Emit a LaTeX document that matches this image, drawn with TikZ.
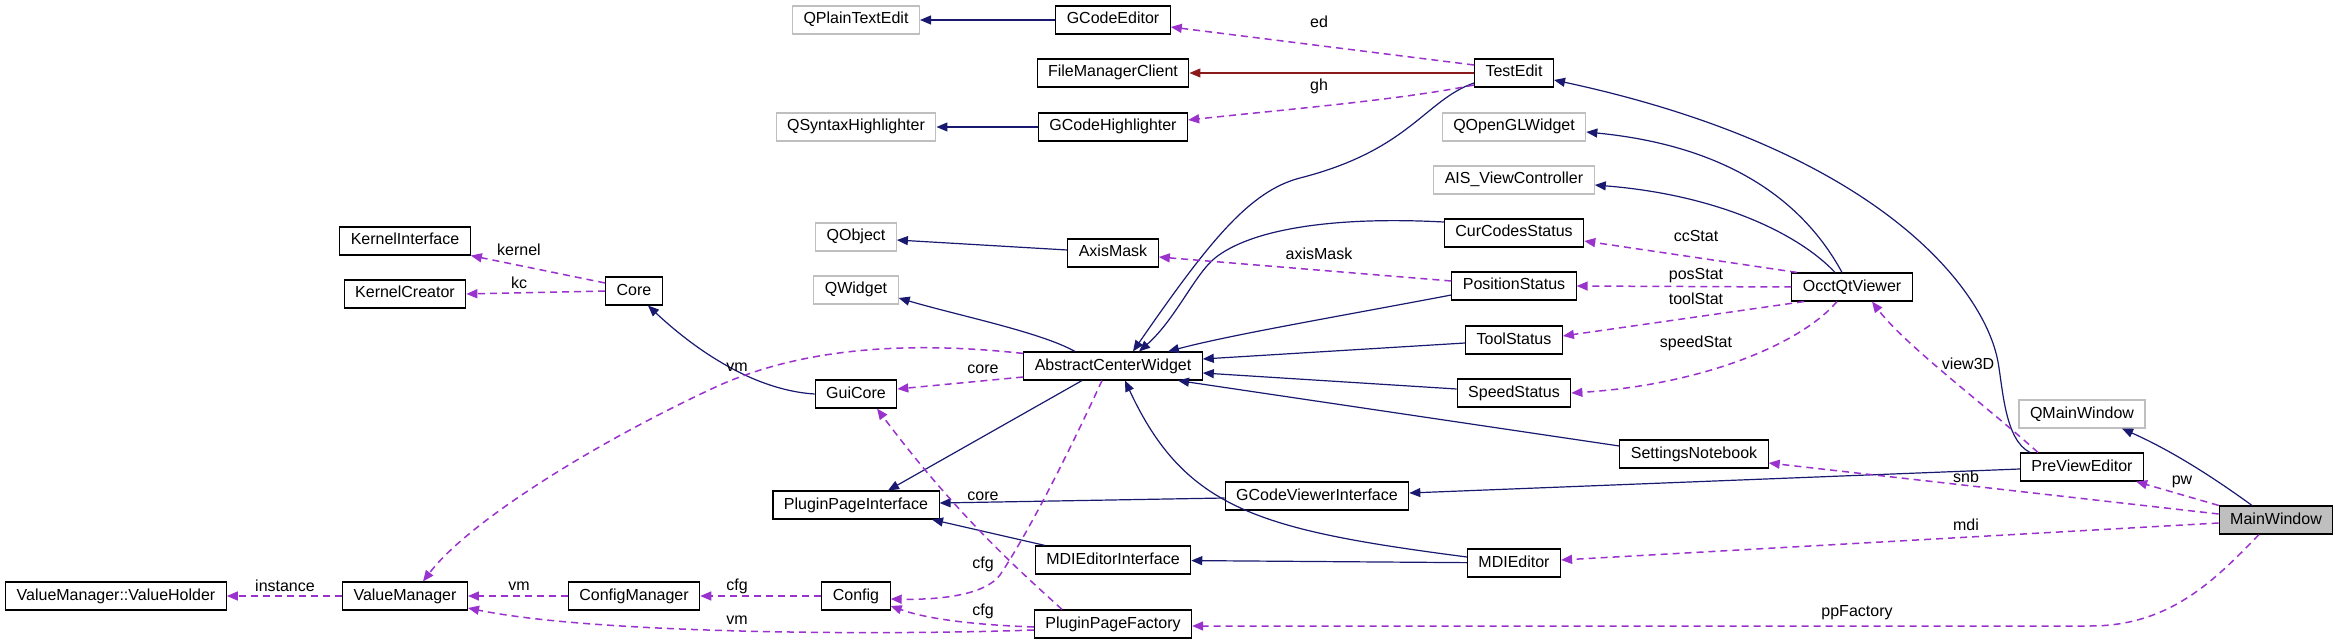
\documentclass[tikz,border=0pt]{standalone}
\usepackage{fontspec}
\setmainfont{Liberation Sans}
\usetikzlibrary{arrows.meta}
\usepackage{xcolor}
\definecolor{navyedge}{RGB}{25,25,112}
\definecolor{useedge}{RGB}{154,50,205}
\definecolor{protedge}{RGB}{139,26,26}
\definecolor{extgray}{RGB}{191,191,191}

\begin{document}
\begin{tikzpicture}[
        x=1pt, y=-1pt,
        every node/.style={font=\fontsize{16}{19}\selectfont},
        cls/.style={rectangle, draw=black, line width=1.1pt, minimum height=28pt,
            inner xsep=11pt, inner ysep=0pt, text height=11.5pt, text depth=3.5pt},
        ext/.style={cls, draw=extgray},
        focus/.style={cls, fill=extgray},
        inh/.style={draw=navyedge, line width=1.2pt, -{Triangle[length=11pt,width=9pt]}},
        prot/.style={inh, draw=protedge},
        use/.style={draw=useedge, line width=1.5pt, dash pattern=on 7pt off 5pt,
            -{Triangle[length=11pt,width=9pt]}},
        lbl/.style={inner sep=1pt}
    ]
        \path[use as bounding box, fill=white] (0,0) rectangle (2339,644);

        % Classes
        \node[ext] (qplain) at (856,20) {QPlainTextEdit};
        \node[cls] (gceditor) at (1113,20) {GCodeEditor};
        \node[cls] (fmclient) at (1113,73) {FileManagerClient};
        \node[cls] (testedit) at (1514,73) {TestEdit};
        \node[ext] (qsyntax) at (856,127) {QSyntaxHighlighter};
        \node[cls] (gchigh) at (1113,127) {GCodeHighlighter};
        \node[ext] (qopengl) at (1514,127) {QOpenGLWidget};
        \node[ext] (aisvc) at (1514,180) {AIS\_ViewController};
        \node[cls] (kinterface) at (405,241) {KernelInterface};
        \node[cls] (kcreator) at (405,294) {KernelCreator};
        \node[cls] (core) at (634,291) {Core};
        \node[ext] (qobject) at (856,237) {QObject};
        \node[cls] (axismask) at (1113,253) {AxisMask};
        \node[cls] (ccstatus) at (1514,233) {CurCodesStatus};
        \node[cls] (posstatus) at (1514,286) {PositionStatus};
        \node[ext] (qwidget) at (856,290) {QWidget};
        \node[cls] (occt) at (1852,287) {OcctQtViewer};
        \node[cls] (toolstatus) at (1514,340) {ToolStatus};
        \node[cls] (acw) at (1113,366) {AbstractCenterWidget};
        \node[cls] (guicore) at (856,394) {GuiCore};
        \node[cls] (speedstatus) at (1514,393) {SpeedStatus};
        \node[ext] (qmain) at (2082,414) {QMainWindow};
        \node[cls] (settings) at (1694,454) {SettingsNotebook};
        \node[cls] (preview) at (2082,467) {PreViewEditor};
        \node[cls] (ppi) at (856,505) {PluginPageInterface};
        \node[cls] (gcvi) at (1317,496) {GCodeViewerInterface};
        \node[focus] (mainwin) at (2276,520) {MainWindow};
        \node[cls] (mdiei) at (1113,560) {MDIEditorInterface};
        \node[cls] (mdieditor) at (1514,563) {MDIEditor};
        \node[cls] (vholder) at (116,596) {ValueManager::ValueHolder};
        \node[cls] (vmanager) at (405,596) {ValueManager};
        \node[cls] (cmanager) at (634,596) {ConfigManager};
        \node[cls] (config) at (856,596) {Config};
        \node[cls] (ppfactory) at (1113,624) {PluginPageFactory};

        % Herança
        \draw[inh] (gceditor) -- (qplain);
        \draw[inh] (gchigh) -- (qsyntax);
        \draw[prot] (testedit) -- (fmclient);
        \draw[inh] ([yshift=3]axismask.west) -- ([yshift=-3]qobject.east);
        \draw[inh] ([xshift=-38]acw.north) .. controls (1040,332) and (960,316) .. ([yshift=-8]qwidget.east);
        \draw[inh] (guicore.west) .. controls (750,390) and (690,345) .. ([xshift=14]core.south);
        \draw[inh] ([xshift=-31]acw.south) -- ([xshift=32]ppi.north);
        \draw[inh] ([yshift=-10]testedit.west) .. controls (1425,100) and (1410,150) .. (1300,178)
            .. controls (1250,191) and (1210,240) .. ([xshift=20]acw.north);
        \draw[inh] ([yshift=11]ccstatus.west) .. controls (1330,216) and (1250,230) .. (1215,258)
            .. controls (1195,274) and (1175,320) .. ([xshift=26]acw.north);
        \draw[inh] ([yshift=-9]posstatus.west) .. controls (1330,318) and (1230,335) .. ([xshift=55]acw.north);
        \draw[inh] ([yshift=-3]toolstatus.west) -- ([yshift=7]acw.east);
        \draw[inh] ([yshift=4]speedstatus.west) -- ([yshift=-7]acw.east);
        \draw[inh] ([yshift=8]settings.west) -- ([xshift=65]acw.south);
        \draw[inh] ([yshift=6]mdieditor.west) .. controls (1260,530) and (1185,510) .. ([xshift=12]acw.south);
        \draw[inh] ([yshift=-2]gcvi.west) -- ([yshift=2]ppi.east);
        \draw[inh] ([xshift=-68]mdiei.north) -- ([xshift=76]ppi.south);
        \draw[inh] (mdieditor) -- (mdiei);
        \draw[inh] ([yshift=-2]preview.west) -- ([yshift=3]gcvi.east);
        \draw[inh] ([xshift=-52]preview.north) .. controls (2005,440) and (2003,390) .. (1998,362)
            .. controls (1985,290) and (1880,150) .. ([yshift=-7]testedit.east);
        \draw[inh] ([xshift=-10]occt.north) .. controls (1800,195) and (1720,145) .. ([yshift=-5]qopengl.east);
        \draw[inh] ([xshift=-17]occt.north) .. controls (1800,235) and (1720,195) .. ([yshift=-5]aisvc.east);
        \draw[inh] ([xshift=-24]mainwin.north) .. controls (2210,475) and (2170,450) .. ([xshift=40]qmain.south);

        % Membros (uso)
        \draw[use] ([yshift=8]testedit.west) -- ([yshift=-7]gceditor.east);
        \draw[use] ([yshift=-12]testedit.west) .. controls (1400,100) and (1280,110) .. ([yshift=7]gchigh.east);
        \draw[use] ([yshift=5]posstatus.west) -- ([yshift=-4]axismask.east);
        \draw[use] ([yshift=8]core.west) -- (kinterface.south east);
        \draw[use] (core.west) -- (kcreator.east);
        \draw[use] ([yshift=-11]acw.west) -- ([yshift=5]guicore.east);
        \draw[use] ([yshift=-2]acw.north west) .. controls (900,340) and (800,350) .. (720,385)
            .. controls (600,440) and (470,520) .. ([xshift=18]vmanager.north);
        \draw[use] (cmanager) -- (vmanager);
        \draw[use] (vmanager) -- (vholder);
        \draw[use] (config) -- (cmanager);
        \draw[use] ([yshift=-6]ppfactory.west) .. controls (900,635) and (600,635) .. ([yshift=-12]vmanager.east);
        \draw[use] ([yshift=-3]ppfactory.west) .. controls (980,625) and (930,620) .. ([yshift=-10]config.east);
        \draw[use] ([xshift=-11]acw.south) .. controls (1070,450) and (1030,530) .. (1000,575)
            .. controls (985,595) and (940,600) .. ([yshift=-3]config.east);
        \draw[use] ([xshift=-51]ppfactory.north) .. controls (1030,580) and (960,520) .. ([xshift=21]guicore.south);
        \draw[use] ([xshift=-55]occt.north) -- ([yshift=-8]ccstatus.east);
        \draw[use] (occt.west) -- (posstatus.east);
        \draw[use] ([xshift=-48]occt.south) -- ([yshift=4]toolstatus.east);
        \draw[use] ([xshift=-15]occt.south) .. controls (1800,345) and (1700,385) .. (speedstatus.east);
        \draw[use] ([xshift=-44]preview.north) .. controls (1985,405) and (1905,345) .. ([xshift=20]occt.south);
        \draw[use] (mainwin.north west) -- ([xshift=-8]preview.south east);
        \draw[use] ([yshift=6]mainwin.west) -- ([yshift=-9]settings.east);
        \draw[use] ([yshift=-3]mainwin.west) -- ([yshift=3]mdieditor.east);
        \draw[use] ([xshift=-17]mainwin.south) .. controls (2215,580) and (2170,626) .. (2090,626)
            -- ([yshift=-2]ppfactory.east);

        % Rótulos
        \node[lbl] (l-ed) at (1319,22) {ed};
        \node[lbl] (l-gh) at (1319,86) {gh};
        \node[lbl] (l-axismask) at (1319,254) {axisMask};
        \node[lbl] (l-kernel) at (519,250) {kernel};
        \node[lbl] (l-kc) at (519,283) {kc};
        \node[lbl] (l-vm1) at (737,367) {vm};
        \node[lbl] (l-instance) at (285,586) {instance};
        \node[lbl] (l-vm2) at (519,586) {vm};
        \node[lbl] (l-cfg1) at (737,586) {cfg};
        \node[lbl] (l-vm3) at (737,620) {vm};
        \node[lbl] (l-core1) at (983,369) {core};
        \node[lbl] (l-core2) at (983,496) {core};
        \node[lbl] (l-cfg2) at (983,564) {cfg};
        \node[lbl] (l-cfg3) at (983,611) {cfg};
        \node[lbl] (l-ccstat) at (1696,236) {ccStat};
        \node[lbl] (l-posstat) at (1696,276) {posStat};
        \node[lbl] (l-toolstat) at (1696,299) {toolStat};
        \node[lbl] (l-speedstat) at (1696,343) {speedStat};
        \node[lbl] (l-view3d) at (1968,364) {view3D};
        \node[lbl] (l-snb) at (1966,477) {snb};
        \node[lbl] (l-pw) at (2182,482) {pw};
        \node[lbl] (l-mdi) at (1966,525) {mdi};
        \node[lbl] (l-ppfactory) at (1857,613) {ppFactory};
    \end{tikzpicture}
\end{document}
